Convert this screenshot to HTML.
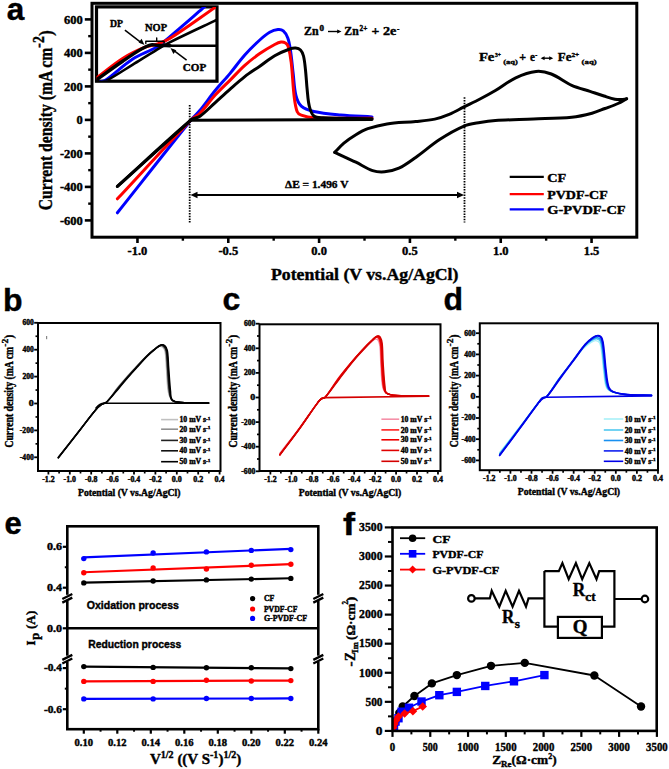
<!DOCTYPE html>
<html><head><meta charset="utf-8"><style>
html,body{margin:0;padding:0;background:#fff;}
body{width:669px;height:769px;overflow:hidden;}
svg{display:block;}
text{stroke:#000;stroke-width:0.4px;}
</style></head><body>
<svg width="669" height="769" viewBox="0 0 669 769">
<rect width="669" height="769" fill="#fff"/>
<path d="M117.4,212.8 C141.93,181.87 166.23,150.74 191,120 C193.77,116.57 197.2,113.71 200,110.3 C205.21,103.96 209.82,97.16 215,90.8 C219.79,84.92 225.05,79.43 229.9,73.6 C234.98,67.49 239.52,60.93 244.8,55 C249.5,49.72 254.57,44.76 259.8,40 C262.89,37.18 266.08,34.4 269.7,32.3 C272.2,30.85 275.03,29.82 277.9,29.5 C279.74,29.3 281.89,29.6 283.3,30.8 C285.44,32.61 286.84,35.27 287.8,37.9 C289.27,41.93 289.86,46.25 290.5,50.5 C291.66,58.23 292.26,66.04 293.2,73.8 C294.06,80.97 294.14,88.29 295.9,95.3 C296.88,99.2 298.32,103.4 301.3,106.1 C304.67,109.15 309.37,110.5 313.8,111.5 C322.62,113.49 331.7,114.16 340.7,115 C351.11,115.97 361.57,116.27 372,116.9" stroke="#0000ff" stroke-width="3" fill="none" stroke-linejoin="round" stroke-linecap="round"/>
<path d="M117.4,198.8 C141.93,172.53 166.04,145.86 191,120 C193.61,117.29 197.38,115.9 200,113.2 C205.42,107.62 209.76,101.05 215,95.3 C219.73,90.11 224.94,85.37 229.9,80.4 C234.88,75.41 239.56,70.11 244.8,65.4 C249.54,61.13 254.57,57.16 259.8,53.5 C264.56,50.18 269.6,47.27 274.7,44.5 C276.69,43.42 278.76,42.31 281,42 C282.52,41.79 284.2,42.19 285.5,43 C286.75,43.78 287.78,45.09 288.2,46.5 C289.72,51.67 290.56,57.04 291.2,62.4 C292.56,73.83 292.81,85.37 294.2,96.8 C294.81,101.83 295.37,106.98 297.2,111.7 C297.84,113.36 299.63,114.49 301.3,115.1 C305.3,116.57 309.54,117.61 313.8,117.8 C333.18,118.68 352.6,118.13 372,118.3" stroke="#ff0000" stroke-width="3" fill="none" stroke-linejoin="round" stroke-linecap="round"/>
<path d="M117.4,186.4 C141.93,164.27 165.82,141.4 191,120 C193.48,117.89 197.35,118.1 200,116.2 C205.45,112.29 210.02,107.28 215,102.8 C219.98,98.32 224.87,93.73 229.9,89.3 C234.8,84.99 239.64,80.59 244.8,76.6 C249.61,72.88 254.81,69.69 259.8,66.2 C264.78,62.72 269.43,58.73 274.7,55.7 C279.45,52.97 284.56,50.89 289.7,49 C291.6,48.3 293.68,47.81 295.7,48 C297.43,48.16 299.29,48.76 300.5,50 C302.06,51.6 302.96,53.83 303.5,56 C304.64,60.57 304.99,65.31 305.5,70 C306.22,76.65 306.5,83.35 307.2,90 C307.77,95.38 307.97,100.85 309.3,106.1 C310.19,109.61 311.06,113.63 313.8,116 C316.11,118 319.74,117.66 322.8,117.8 C339.19,118.56 355.6,118.4 372,118.7" stroke="#000" stroke-width="3" fill="none" stroke-linejoin="round" stroke-linecap="round"/>
<line x1="191" y1="120.2" x2="372" y2="119.4" stroke="#000" stroke-width="3" stroke-linecap="round"/>
<line x1="117.4" y1="186.4" x2="191" y2="120" stroke="#000" stroke-width="3" stroke-linecap="round"/>
<path d="M334.8,152.4 C337.83,149.3 340.58,145.89 343.9,143.1 C347.64,139.96 351.72,137.22 355.9,134.7 C359.71,132.41 363.6,130.16 367.8,128.7 C374.03,126.54 380.48,124.88 387,123.9 C396.49,122.47 406.15,122.46 415.7,121.5 C422.08,120.86 428.52,120.43 434.8,119.1 C439.74,118.05 444.54,116.33 449.2,114.4 C454.13,112.36 458.73,109.59 463.5,107.2 C468.99,104.45 474.56,101.85 480,99 C485.19,96.28 490.36,93.49 495.4,90.5 C502.26,86.42 508.47,81.19 515.7,77.8 C522.15,74.77 529.01,72.16 536.1,71.4 C541.21,70.85 546.52,72.12 551.3,74 C558.55,76.85 564.6,82.21 571.7,85.4 C577.55,88.03 583.9,89.4 590,91.4 C594.67,92.93 599.31,94.53 604,96 C607.61,97.13 611.2,98.42 614.9,99.2 C616.89,99.62 618.96,99.67 621,99.6 C622.88,99.54 624.73,99.07 626.6,98.8" stroke="#000" stroke-width="3" fill="none" stroke-linejoin="round" stroke-linecap="round"/>
<path d="M626.6,98.8 C623.73,100.37 620.98,102.16 618,103.5 C613.76,105.4 609.35,106.88 605,108.5 C600.68,110.11 596.46,112.04 592,113.2 C585.33,114.94 578.56,116.52 571.7,117.2 C559.01,118.46 546.24,118.45 533.5,119 C520.8,119.55 508.08,119.67 495.4,120.5 C490.23,120.84 485.09,121.57 480,122.5 C474.45,123.51 468.7,124.11 463.5,126.3 C455.11,129.83 447.23,134.54 439.6,139.5 C431.26,144.93 423.83,151.66 415.7,157.4 C410.26,161.24 404.94,165.4 398.9,168.2 C394.44,170.27 389.5,171.35 384.6,171.8 C380.6,172.17 376.41,171.88 372.6,170.6 C366.69,168.62 361.51,164.9 355.9,162.2 C348.91,158.84 341.83,155.67 334.8,152.4" stroke="#000" stroke-width="3" fill="none" stroke-linejoin="round" stroke-linecap="round"/>
<line x1="189.7" y1="105" x2="189.7" y2="222.5" stroke="#000" stroke-width="1.8" stroke-dasharray="1.5,1.2"/>
<line x1="464.5" y1="97.3" x2="464.5" y2="222.5" stroke="#000" stroke-width="1.8" stroke-dasharray="1.5,1.2"/>
<line x1="196" y1="195" x2="458" y2="195" stroke="#000" stroke-width="2"/>
<path d="M190.5,195 L197.5,191.8 L197.5,198.2 Z" fill="#000"/>
<path d="M464,195 L457,191.8 L457,198.2 Z" fill="#000"/>
<text x="285" y="187.7" font-family='"Liberation Serif", serif' font-size="11" font-weight="bold" fill="#000" textLength="63.4" lengthAdjust="spacingAndGlyphs">ΔE = 1.496 V</text>
<rect x="92" y="3.3" width="544.8" height="233.9" stroke="#000" stroke-width="3" fill="none"/>
<line x1="84.8" y1="220.4" x2="92" y2="220.4" stroke="#000" stroke-width="2.6"/>
<text x="82.8" y="224.5" font-family='"Liberation Serif", serif' font-size="12.5" font-weight="bold" fill="#000" text-anchor="end">-600</text>
<line x1="84.8" y1="186.9" x2="92" y2="186.9" stroke="#000" stroke-width="2.6"/>
<text x="82.8" y="191" font-family='"Liberation Serif", serif' font-size="12.5" font-weight="bold" fill="#000" text-anchor="end">-400</text>
<line x1="84.8" y1="153.4" x2="92" y2="153.4" stroke="#000" stroke-width="2.6"/>
<text x="82.8" y="157.5" font-family='"Liberation Serif", serif' font-size="12.5" font-weight="bold" fill="#000" text-anchor="end">-200</text>
<line x1="84.8" y1="119.9" x2="92" y2="119.9" stroke="#000" stroke-width="2.6"/>
<text x="82.8" y="124" font-family='"Liberation Serif", serif' font-size="12.5" font-weight="bold" fill="#000" text-anchor="end">0</text>
<line x1="84.8" y1="86.4" x2="92" y2="86.4" stroke="#000" stroke-width="2.6"/>
<text x="82.8" y="90.5" font-family='"Liberation Serif", serif' font-size="12.5" font-weight="bold" fill="#000" text-anchor="end">200</text>
<line x1="84.8" y1="52.9" x2="92" y2="52.9" stroke="#000" stroke-width="2.6"/>
<text x="82.8" y="57" font-family='"Liberation Serif", serif' font-size="12.5" font-weight="bold" fill="#000" text-anchor="end">400</text>
<line x1="84.8" y1="19.4" x2="92" y2="19.4" stroke="#000" stroke-width="2.6"/>
<text x="82.8" y="23.5" font-family='"Liberation Serif", serif' font-size="12.5" font-weight="bold" fill="#000" text-anchor="end">600</text>
<line x1="88.2" y1="203.65" x2="92" y2="203.65" stroke="#000" stroke-width="2.4"/>
<line x1="88.2" y1="170.15" x2="92" y2="170.15" stroke="#000" stroke-width="2.4"/>
<line x1="88.2" y1="136.65" x2="92" y2="136.65" stroke="#000" stroke-width="2.4"/>
<line x1="88.2" y1="103.15" x2="92" y2="103.15" stroke="#000" stroke-width="2.4"/>
<line x1="88.2" y1="69.65" x2="92" y2="69.65" stroke="#000" stroke-width="2.4"/>
<line x1="88.2" y1="36.15" x2="92" y2="36.15" stroke="#000" stroke-width="2.4"/>
<line x1="137.46" y1="237.2" x2="137.46" y2="243" stroke="#000" stroke-width="2.6"/>
<text x="137.46" y="255.3" font-family='"Liberation Serif", serif' font-size="12.5" font-weight="bold" fill="#000" text-anchor="middle">-1.0</text>
<line x1="228.28" y1="237.2" x2="228.28" y2="243" stroke="#000" stroke-width="2.6"/>
<text x="228.28" y="255.3" font-family='"Liberation Serif", serif' font-size="12.5" font-weight="bold" fill="#000" text-anchor="middle">-0.5</text>
<line x1="319.1" y1="237.2" x2="319.1" y2="243" stroke="#000" stroke-width="2.6"/>
<text x="319.1" y="255.3" font-family='"Liberation Serif", serif' font-size="12.5" font-weight="bold" fill="#000" text-anchor="middle">0.0</text>
<line x1="409.92" y1="237.2" x2="409.92" y2="243" stroke="#000" stroke-width="2.6"/>
<text x="409.92" y="255.3" font-family='"Liberation Serif", serif' font-size="12.5" font-weight="bold" fill="#000" text-anchor="middle">0.5</text>
<line x1="500.74" y1="237.2" x2="500.74" y2="243" stroke="#000" stroke-width="2.6"/>
<text x="500.74" y="255.3" font-family='"Liberation Serif", serif' font-size="12.5" font-weight="bold" fill="#000" text-anchor="middle">1.0</text>
<line x1="591.56" y1="237.2" x2="591.56" y2="243" stroke="#000" stroke-width="2.6"/>
<text x="591.56" y="255.3" font-family='"Liberation Serif", serif' font-size="12.5" font-weight="bold" fill="#000" text-anchor="middle">1.5</text>
<line x1="182.87" y1="237.2" x2="182.87" y2="240.7" stroke="#000" stroke-width="2.4"/>
<line x1="273.69" y1="237.2" x2="273.69" y2="240.7" stroke="#000" stroke-width="2.4"/>
<line x1="364.51" y1="237.2" x2="364.51" y2="240.7" stroke="#000" stroke-width="2.4"/>
<line x1="455.33" y1="237.2" x2="455.33" y2="240.7" stroke="#000" stroke-width="2.4"/>
<line x1="546.15" y1="237.2" x2="546.15" y2="240.7" stroke="#000" stroke-width="2.4"/>
<clipPath id="ci"><rect x="96.5" y="6.9" width="119.5" height="73.8"/></clipPath>
<rect x="96.5" y="6.9" width="120.5" height="74.3" stroke="#000" stroke-width="3.2" fill="#fff"/>
<g clip-path="url(#ci)">
<path d="M100,82 C102.07,81.23 104.4,80.97 106.2,79.7 C115.27,73.32 123.09,65.23 132.4,59.2 C140.01,54.27 148.93,51.67 156.7,47 C161.42,44.16 165.48,40.34 169.7,36.8 C180.71,27.57 191.52,18.09 202.4,8.7 C204.96,6.49 207.47,4.23 210,2" stroke="#0000ff" stroke-width="3" fill="none" stroke-linejoin="round" stroke-linecap="round"/>
<path d="M94,79.5 C95.27,78.63 96.56,77.81 97.8,76.9 C106.23,70.74 114.16,63.85 123,58.3 C130.08,53.85 137.69,50.23 145.4,47 C148.98,45.5 153.03,45.47 156.7,44.2 C161.16,42.66 165.71,41.11 169.7,38.6 C185.07,28.94 199.65,18.09 214.6,7.8 C216.41,6.55 218.2,5.27 220,4" stroke="#ff0000" stroke-width="3" fill="none" stroke-linejoin="round" stroke-linecap="round"/>
<path d="M96,83 C99.4,82.23 103.08,82.26 106.2,80.7 C115.34,76.13 123.69,70.13 132.4,64.8 C140.52,59.83 148.54,54.7 156.7,49.8 C160.97,47.23 165.24,44.63 169.7,42.4 C184.55,34.99 199.61,28.02 214.6,20.9 C216.38,20.05 218.2,19.3 220,18.5" stroke="#000" stroke-width="2.6" fill="none" stroke-linejoin="round" stroke-linecap="round"/>
<path d="M94,81.5 C95.27,80.6 96.53,79.7 97.8,78.8 C106.2,72.86 114.5,66.79 123,61 C129.14,56.82 135.27,52.61 141.7,48.9 C144.66,47.19 147.75,45.48 151.1,44.8 C153.53,44.31 156.03,45.38 158.5,45.5 C162.33,45.68 166.17,45.63 170,45.7" stroke="#000" stroke-width="3.4" fill="none" stroke-linejoin="round" stroke-linecap="round"/>
<line x1="158" y1="45.7" x2="218" y2="45.7" stroke="#000" stroke-width="2.4"/>
</g>
<text x="110" y="27.4" font-family='"Liberation Serif", serif' font-size="10" font-weight="bold" fill="#000" textLength="13" lengthAdjust="spacingAndGlyphs">DP</text>
<text x="145" y="31.2" font-family='"Liberation Serif", serif' font-size="10" font-weight="bold" fill="#000" textLength="22" lengthAdjust="spacingAndGlyphs">NOP</text>
<text x="182.8" y="71.3" font-family='"Liberation Serif", serif' font-size="10" font-weight="bold" fill="#000" textLength="23.4" lengthAdjust="spacingAndGlyphs">COP</text>
<line x1="124.9" y1="30.2" x2="141.5" y2="42.8" stroke="#000" stroke-width="1.5"/>
<path d="M144.5,45 L138.6,42.6 L141.6,38.8 Z" fill="#000"/>
<line x1="186.6" y1="60.1" x2="173" y2="49.8" stroke="#000" stroke-width="1.5"/>
<path d="M170.5,48 L176.3,50.3 L173.4,54.1 Z" fill="#000"/>
<path d="M145.8,43.5 L145.8,41.2 L156.7,41.2 L156.7,38 M156.7,41.2 L164.1,41.2 L164.1,43.5" stroke="#000" stroke-width="1.4" fill="none" stroke-linejoin="round" stroke-linecap="round"/>
<text x="304" y="34.7" font-family='"Liberation Serif", serif' font-size="12.5" font-weight="bold" fill="#000" textLength="14.6" lengthAdjust="spacingAndGlyphs">Zn</text>
<text x="319.6" y="30.8" font-family='"Liberation Serif", serif' font-size="7.3" font-weight="bold" fill="#000" textLength="4.5" lengthAdjust="spacingAndGlyphs">0</text>
<line x1="328" y1="31.5" x2="339" y2="31.5" stroke="#000" stroke-width="1.4"/>
<path d="M341.5,31.5 L337.2,29.6 L337.2,33.4 Z" fill="#000"/>
<text x="344.3" y="34.7" font-family='"Liberation Serif", serif' font-size="12.5" font-weight="bold" fill="#000" textLength="14.4" lengthAdjust="spacingAndGlyphs">Zn</text>
<text x="359.6" y="30.6" font-family='"Liberation Serif", serif' font-size="7.3" font-weight="bold" fill="#000" textLength="7.8" lengthAdjust="spacingAndGlyphs">2+</text>
<text x="371.5" y="34.5" font-family='"Liberation Serif", serif' font-size="12" font-weight="bold" fill="#000" textLength="7.8" lengthAdjust="spacingAndGlyphs">+</text>
<text x="382.9" y="34.7" font-family='"Liberation Serif", serif' font-size="12.5" font-weight="bold" fill="#000" textLength="13.4" lengthAdjust="spacingAndGlyphs">2e</text>
<text x="396.9" y="30.5" font-family='"Liberation Serif", serif' font-size="6.5" font-weight="bold" fill="#000" textLength="2.4" lengthAdjust="spacingAndGlyphs">-</text>
<text x="478.9" y="61.1" font-family='"Liberation Serif", serif' font-size="12" font-weight="bold" fill="#000" textLength="15.5" lengthAdjust="spacingAndGlyphs">Fe</text>
<text x="494.9" y="56.9" font-family='"Liberation Serif", serif' font-size="7" font-weight="bold" fill="#000" textLength="5.9" lengthAdjust="spacingAndGlyphs">3+</text>
<text x="503.2" y="63.6" font-family='"Liberation Serif", serif' font-size="7" font-weight="bold" fill="#000" textLength="14.6" lengthAdjust="spacingAndGlyphs">(aq)</text>
<text x="519.2" y="61" font-family='"Liberation Serif", serif' font-size="11.5" font-weight="bold" fill="#000" textLength="6.8" lengthAdjust="spacingAndGlyphs">+</text>
<text x="529.9" y="61.1" font-family='"Liberation Serif", serif' font-size="11.5" font-weight="bold" fill="#000" textLength="4.9" lengthAdjust="spacingAndGlyphs">e</text>
<text x="535.3" y="57" font-family='"Liberation Serif", serif' font-size="7" font-weight="bold" fill="#000" textLength="2" lengthAdjust="spacingAndGlyphs">-</text>
<line x1="542.5" y1="58.2" x2="551.3" y2="58.2" stroke="#000" stroke-width="1.4"/>
<path d="M540.6,58.2 L544.6,56.2 L544.6,60.2 Z M553.2,58.2 L549.2,56.2 L549.2,60.2 Z" fill="#000"/>
<text x="557.8" y="61.1" font-family='"Liberation Serif", serif' font-size="12" font-weight="bold" fill="#000" textLength="13.6" lengthAdjust="spacingAndGlyphs">Fe</text>
<text x="571.4" y="56.9" font-family='"Liberation Serif", serif' font-size="7" font-weight="bold" fill="#000" textLength="7.8" lengthAdjust="spacingAndGlyphs">2+</text>
<text x="581.6" y="63.6" font-family='"Liberation Serif", serif' font-size="7" font-weight="bold" fill="#000" textLength="15.1" lengthAdjust="spacingAndGlyphs">(aq)</text>
<line x1="509.7" y1="176.8" x2="543.8" y2="176.8" stroke="#000" stroke-width="2.2"/>
<text x="547.2" y="181.8" font-family='"Liberation Serif", serif' font-size="13.5" font-weight="bold" fill="#000" textLength="19" lengthAdjust="spacingAndGlyphs">CF</text>
<line x1="509.7" y1="194.1" x2="543.8" y2="194.1" stroke="#ff0000" stroke-width="2.2"/>
<text x="547.2" y="199.1" font-family='"Liberation Serif", serif' font-size="13.5" font-weight="bold" fill="#000" textLength="60.5" lengthAdjust="spacingAndGlyphs">PVDF-CF</text>
<line x1="509.7" y1="209.3" x2="543.8" y2="209.3" stroke="#0000ff" stroke-width="2.2"/>
<text x="547.2" y="214.3" font-family='"Liberation Serif", serif' font-size="13.5" font-weight="bold" fill="#000" textLength="78.4" lengthAdjust="spacingAndGlyphs">G-PVDF-CF</text>
<text x="271" y="279.5" font-family='"Liberation Serif", serif' font-size="17" font-weight="bold" fill="#000" textLength="187.4" lengthAdjust="spacingAndGlyphs">Potential (V vs.Ag/AgCl)</text>
<g transform="translate(51.5 210.2) rotate(-90)">
<text x="0" y="0" font-family='"Liberation Serif", serif' font-size="19.5" font-weight="bold" fill="#000" textLength="162.5" lengthAdjust="spacingAndGlyphs">Current density (mA cm</text>
<text x="162.5" y="-7.5" font-family='"Liberation Serif", serif' font-size="16" font-weight="bold" fill="#000" textLength="11.5" lengthAdjust="spacingAndGlyphs">-2</text>
<text x="174.5" y="0" font-family='"Liberation Serif", serif' font-size="19.5" font-weight="bold" fill="#000" textLength="5.5" lengthAdjust="spacingAndGlyphs">)</text>
</g>
<text x="6.8" y="19.6" font-family='"Liberation Sans", sans-serif' font-size="31.5" font-weight="bold" fill="#000">a</text>
<path d="M58.3,456.99 C65.53,447.86 72.77,438.73 80,429.6 C85.2,423.04 90.17,416.28 95.6,409.9 C97.25,407.96 99.12,406.16 101.2,404.68 C102.89,403.48 105.36,403.44 106.8,401.94 C110.72,397.85 113.38,392.72 116.9,388.29 C119.89,384.53 123.1,380.95 126.3,377.37 C129.34,373.97 132.48,370.66 135.6,367.33 C138.72,364 141.73,360.57 145,357.38 C147.34,355.1 149.82,352.96 152.4,350.95 C154.5,349.31 156.49,347.34 159,346.46 C160.2,346.04 161.76,346.49 162.7,347.34 C163.98,348.49 164.8,350.22 165.1,351.92 C166.05,357.32 165.96,362.84 166.4,368.3 C167.03,376.2 166.88,384.2 168.3,392 C168.84,394.97 169.83,398.31 172.2,400.19 C174.73,402.19 178.38,402.28 181.6,402.52 C190.58,403.2 199.6,402.78 208.6,402.91" stroke="#c0c0c0" stroke-width="1.3" fill="none" stroke-linejoin="round" stroke-linecap="round"/>
<path d="M58.3,457.31 C65.53,448.13 72.77,438.95 80,429.76 C85.2,423.16 90.17,416.36 95.6,409.94 C97.25,407.99 99.12,406.18 101.2,404.69 C102.89,403.48 105.34,403.41 106.8,401.92 C110.87,397.78 113.8,392.65 117.45,388.13 C120.49,384.38 123.65,380.72 126.85,377.1 C129.89,373.66 133.03,370.32 136.15,366.96 C139.27,363.59 142.28,360.13 145.55,356.91 C147.89,354.61 150.37,352.44 152.95,350.41 C155.05,348.76 157.03,346.77 159.55,345.88 C160.75,345.45 162.31,345.91 163.25,346.76 C164.54,347.93 165.35,349.68 165.65,351.39 C166.6,356.84 166.51,362.43 166.95,367.94 C167.58,375.92 167.56,383.98 168.85,391.88 C169.33,394.81 169.92,398.24 172.2,400.15 C174.68,402.22 178.38,402.27 181.6,402.51 C190.58,403.2 199.6,402.78 208.6,402.91" stroke="#909090" stroke-width="1.3" fill="none" stroke-linejoin="round" stroke-linecap="round"/>
<path d="M58.3,457.47 C65.53,448.26 72.77,439.05 80,429.84 C85.2,423.22 90.17,416.4 95.6,409.96 C97.25,408 99.12,406.19 101.2,404.69 C102.89,403.48 105.32,403.38 106.8,401.92 C111.02,397.74 114.22,392.64 118,388.06 C121.09,384.32 124.2,380.61 127.4,376.97 C130.44,373.51 133.58,370.15 136.7,366.77 C139.82,363.39 142.83,359.91 146.1,356.67 C148.44,354.36 150.92,352.18 153.5,350.14 C155.6,348.48 157.58,346.48 160.1,345.58 C161.3,345.16 162.86,345.62 163.8,346.48 C165.09,347.65 165.9,349.41 166.2,351.13 C167.15,356.61 167.06,362.22 167.5,367.76 C168.13,375.78 168.24,383.86 169.4,391.82 C169.82,394.71 170,398.21 172.2,400.13 C174.63,402.26 178.38,402.26 181.6,402.51 C190.57,403.19 199.6,402.77 208.6,402.91" stroke="#222" stroke-width="1.4" fill="none" stroke-linejoin="round" stroke-linecap="round"/>
<path d="M58.3,457.8 C65.53,448.53 72.77,439.27 80,430 C85.2,423.33 90.17,416.48 95.6,410 C97.25,408.03 99.12,406.21 101.2,404.7 C102.89,403.48 105.3,403.35 106.8,401.9 C111.18,397.66 114.63,392.57 118.55,387.9 C121.68,384.17 124.75,380.38 127.95,376.7 C130.99,373.21 134.13,369.82 137.25,366.4 C140.37,362.98 143.38,359.47 146.65,356.2 C148.99,353.86 151.47,351.66 154.05,349.6 C156.14,347.92 158.13,345.91 160.65,345 C161.84,344.57 163.41,345.04 164.35,345.9 C165.65,347.09 166.45,348.87 166.75,350.6 C167.7,356.14 167.61,361.8 168.05,367.4 C168.68,375.5 168.93,383.64 169.95,391.7 C170.31,394.58 170.07,398.13 172.2,400.1 C174.57,402.3 178.38,402.25 181.6,402.5 C190.57,403.19 199.6,402.77 208.6,402.9" stroke="#111" stroke-width="1.4" fill="none" stroke-linejoin="round" stroke-linecap="round"/>
<path d="M58.3,457.8 C65.53,448.53 72.77,439.27 80,430 C85.2,423.33 90.17,416.48 95.6,410 C97.25,408.03 99.12,406.21 101.2,404.7 C102.89,403.48 105.28,403.33 106.8,401.9 C111.33,397.65 115.05,392.61 119.1,387.9 C122.28,384.21 125.3,380.38 128.5,376.7 C131.54,373.21 134.68,369.82 137.8,366.4 C140.92,362.98 143.93,359.47 147.2,356.2 C149.54,353.86 152.02,351.66 154.6,349.6 C156.69,347.92 158.68,345.91 161.2,345 C162.39,344.57 163.96,345.04 164.9,345.9 C166.2,347.09 167,348.87 167.3,350.6 C168.25,356.14 168.16,361.8 168.6,367.4 C169.23,375.5 169.61,383.62 170.5,391.7 C170.81,394.54 170.15,398.11 172.2,400.1 C174.52,402.36 178.38,402.25 181.6,402.5 C190.57,403.19 199.6,402.77 208.6,402.9" stroke="#000" stroke-width="1.6" fill="none" stroke-linejoin="round" stroke-linecap="round"/>
<path d="M208.6,403.2 L103,403.2 Q99.5,403.4 96,408" stroke="#000" stroke-width="1.6" fill="none" stroke-linejoin="round" stroke-linecap="round"/>
<rect x="38" y="323" width="182.5" height="148" stroke="#000" stroke-width="2" fill="none"/>
<line x1="34.2" y1="322.8" x2="38" y2="322.8" stroke="#000" stroke-width="1.8"/>
<text x="33.8" y="325.2" font-family='"Liberation Serif", serif' font-size="7.2" font-weight="bold" fill="#000" text-anchor="end" textLength="11.4" lengthAdjust="spacingAndGlyphs">600</text>
<line x1="34.2" y1="349.7" x2="38" y2="349.7" stroke="#000" stroke-width="1.8"/>
<text x="33.8" y="352.1" font-family='"Liberation Serif", serif' font-size="7.2" font-weight="bold" fill="#000" text-anchor="end" textLength="11.4" lengthAdjust="spacingAndGlyphs">400</text>
<line x1="34.2" y1="376.6" x2="38" y2="376.6" stroke="#000" stroke-width="1.8"/>
<text x="33.8" y="379" font-family='"Liberation Serif", serif' font-size="7.2" font-weight="bold" fill="#000" text-anchor="end" textLength="11.4" lengthAdjust="spacingAndGlyphs">200</text>
<line x1="34.2" y1="403.5" x2="38" y2="403.5" stroke="#000" stroke-width="1.8"/>
<text x="33.8" y="405.9" font-family='"Liberation Serif", serif' font-size="7.2" font-weight="bold" fill="#000" text-anchor="end" textLength="5" lengthAdjust="spacingAndGlyphs">0</text>
<line x1="34.2" y1="430.4" x2="38" y2="430.4" stroke="#000" stroke-width="1.8"/>
<text x="33.8" y="432.8" font-family='"Liberation Serif", serif' font-size="7.2" font-weight="bold" fill="#000" text-anchor="end" textLength="14" lengthAdjust="spacingAndGlyphs">-200</text>
<line x1="34.2" y1="457.3" x2="38" y2="457.3" stroke="#000" stroke-width="1.8"/>
<text x="33.8" y="459.7" font-family='"Liberation Serif", serif' font-size="7.2" font-weight="bold" fill="#000" text-anchor="end" textLength="14" lengthAdjust="spacingAndGlyphs">-400</text>
<line x1="35.5" y1="336.25" x2="38" y2="336.25" stroke="#000" stroke-width="1.7"/>
<line x1="35.5" y1="363.15" x2="38" y2="363.15" stroke="#000" stroke-width="1.7"/>
<line x1="35.5" y1="390.05" x2="38" y2="390.05" stroke="#000" stroke-width="1.7"/>
<line x1="35.5" y1="416.95" x2="38" y2="416.95" stroke="#000" stroke-width="1.7"/>
<line x1="35.5" y1="443.85" x2="38" y2="443.85" stroke="#000" stroke-width="1.7"/>
<line x1="48.4" y1="471" x2="48.4" y2="474.5" stroke="#000" stroke-width="1.8"/>
<text x="48.4" y="481.5" font-family='"Liberation Serif", serif' font-size="7.2" font-weight="bold" fill="#000" text-anchor="middle" textLength="12.4" lengthAdjust="spacingAndGlyphs">-1.2</text>
<line x1="69.8" y1="471" x2="69.8" y2="474.5" stroke="#000" stroke-width="1.8"/>
<text x="69.8" y="481.5" font-family='"Liberation Serif", serif' font-size="7.2" font-weight="bold" fill="#000" text-anchor="middle" textLength="12.4" lengthAdjust="spacingAndGlyphs">-1.0</text>
<line x1="91.2" y1="471" x2="91.2" y2="474.5" stroke="#000" stroke-width="1.8"/>
<text x="91.2" y="481.5" font-family='"Liberation Serif", serif' font-size="7.2" font-weight="bold" fill="#000" text-anchor="middle" textLength="12.4" lengthAdjust="spacingAndGlyphs">-0.8</text>
<line x1="112.6" y1="471" x2="112.6" y2="474.5" stroke="#000" stroke-width="1.8"/>
<text x="112.6" y="481.5" font-family='"Liberation Serif", serif' font-size="7.2" font-weight="bold" fill="#000" text-anchor="middle" textLength="12.4" lengthAdjust="spacingAndGlyphs">-0.6</text>
<line x1="134" y1="471" x2="134" y2="474.5" stroke="#000" stroke-width="1.8"/>
<text x="134" y="481.5" font-family='"Liberation Serif", serif' font-size="7.2" font-weight="bold" fill="#000" text-anchor="middle" textLength="12.4" lengthAdjust="spacingAndGlyphs">-0.4</text>
<line x1="155.4" y1="471" x2="155.4" y2="474.5" stroke="#000" stroke-width="1.8"/>
<text x="155.4" y="481.5" font-family='"Liberation Serif", serif' font-size="7.2" font-weight="bold" fill="#000" text-anchor="middle" textLength="12.4" lengthAdjust="spacingAndGlyphs">-0.2</text>
<line x1="176.8" y1="471" x2="176.8" y2="474.5" stroke="#000" stroke-width="1.8"/>
<text x="176.8" y="481.5" font-family='"Liberation Serif", serif' font-size="7.2" font-weight="bold" fill="#000" text-anchor="middle" textLength="10" lengthAdjust="spacingAndGlyphs">0.0</text>
<line x1="198.2" y1="471" x2="198.2" y2="474.5" stroke="#000" stroke-width="1.8"/>
<text x="198.2" y="481.5" font-family='"Liberation Serif", serif' font-size="7.2" font-weight="bold" fill="#000" text-anchor="middle" textLength="10" lengthAdjust="spacingAndGlyphs">0.2</text>
<line x1="219.6" y1="471" x2="219.6" y2="474.5" stroke="#000" stroke-width="1.8"/>
<text x="219.6" y="481.5" font-family='"Liberation Serif", serif' font-size="7.2" font-weight="bold" fill="#000" text-anchor="middle" textLength="10" lengthAdjust="spacingAndGlyphs">0.4</text>
<line x1="59.1" y1="471" x2="59.1" y2="473.5" stroke="#000" stroke-width="1.7"/>
<line x1="80.5" y1="471" x2="80.5" y2="473.5" stroke="#000" stroke-width="1.7"/>
<line x1="101.9" y1="471" x2="101.9" y2="473.5" stroke="#000" stroke-width="1.7"/>
<line x1="123.3" y1="471" x2="123.3" y2="473.5" stroke="#000" stroke-width="1.7"/>
<line x1="144.7" y1="471" x2="144.7" y2="473.5" stroke="#000" stroke-width="1.7"/>
<line x1="166.1" y1="471" x2="166.1" y2="473.5" stroke="#000" stroke-width="1.7"/>
<line x1="187.5" y1="471" x2="187.5" y2="473.5" stroke="#000" stroke-width="1.7"/>
<line x1="208.9" y1="471" x2="208.9" y2="473.5" stroke="#000" stroke-width="1.7"/>
<line x1="161.1" y1="419.6" x2="178" y2="419.6" stroke="#c0c0c0" stroke-width="1.6"/>
<text x="179.5" y="422.2" font-family='"Liberation Serif", serif' font-size="7.2" font-weight="bold" fill="#000" textLength="31" lengthAdjust="spacingAndGlyphs">10 mV s<tspan dy="-2.5" font-size="5">-1</tspan></text>
<line x1="161.1" y1="429.2" x2="178" y2="429.2" stroke="#909090" stroke-width="1.6"/>
<text x="179.5" y="431.8" font-family='"Liberation Serif", serif' font-size="7.2" font-weight="bold" fill="#000" textLength="31" lengthAdjust="spacingAndGlyphs">20 mV s<tspan dy="-2.5" font-size="5">-1</tspan></text>
<line x1="161.1" y1="440.4" x2="178" y2="440.4" stroke="#222" stroke-width="1.6"/>
<text x="179.5" y="443" font-family='"Liberation Serif", serif' font-size="7.2" font-weight="bold" fill="#000" textLength="31" lengthAdjust="spacingAndGlyphs">30 mV s<tspan dy="-2.5" font-size="5">-1</tspan></text>
<line x1="161.1" y1="450.8" x2="178" y2="450.8" stroke="#111" stroke-width="1.6"/>
<text x="179.5" y="453.4" font-family='"Liberation Serif", serif' font-size="7.2" font-weight="bold" fill="#000" textLength="31" lengthAdjust="spacingAndGlyphs">40 mV s<tspan dy="-2.5" font-size="5">-1</tspan></text>
<line x1="161.1" y1="461.7" x2="178" y2="461.7" stroke="#000" stroke-width="1.6"/>
<text x="179.5" y="464.3" font-family='"Liberation Serif", serif' font-size="7.2" font-weight="bold" fill="#000" textLength="31" lengthAdjust="spacingAndGlyphs">50 mV s<tspan dy="-2.5" font-size="5">-1</tspan></text>
<text x="129.25" y="496.2" font-family='"Liberation Serif", serif' font-size="9.3" font-weight="bold" fill="#000" text-anchor="middle" textLength="102.3" lengthAdjust="spacingAndGlyphs">Potential (V vs.Ag/AgCl)</text>
<g transform="translate(12.5 447.5) rotate(-90)">
<text x="0" y="0" font-family='"Liberation Serif", serif' font-size="11.5" font-weight="bold" fill="#000" textLength="100.5" lengthAdjust="spacingAndGlyphs">Current density (mA cm</text>
<text x="100.8" y="-4.5" font-family='"Liberation Serif", serif' font-size="9" font-weight="bold" fill="#000" textLength="8" lengthAdjust="spacingAndGlyphs">-2</text>
<text x="109" y="0" font-family='"Liberation Serif", serif' font-size="11.5" font-weight="bold" fill="#000" textLength="3.8" lengthAdjust="spacingAndGlyphs">)</text>
</g>
<text x="3" y="311" font-family='"Liberation Sans", sans-serif' font-size="32" font-weight="bold" fill="#000">b</text>
<path d="M279.9,453.18 C286.6,444.48 293.43,435.88 300,427.08 C305.63,419.55 310.86,411.72 316.5,404.19 C317.93,402.28 319.32,400.24 321.2,398.76 C322.25,397.94 324.14,398.52 325,397.5 C329.52,392.13 332.74,385.77 336.9,380.12 C339.85,376.11 343.1,372.33 346.3,368.52 C349.33,364.92 352.42,361.36 355.6,357.88 C358.62,354.58 361.74,351.36 364.9,348.2 C366.74,346.36 368.64,344.58 370.6,342.88 C372.07,341.6 373.37,339.95 375.2,339.26 C376.11,338.92 377.46,339.31 378,340.12 C379.2,341.94 379.65,344.22 379.9,346.39 C380.59,352.28 380.39,358.24 380.8,364.15 C381.33,371.86 381.2,379.67 382.7,387.24 C383.17,389.63 384.48,392.23 386.6,393.41 C389.92,395.28 394,395.45 397.8,395.7 C408.05,396.34 418.33,395.95 428.6,396.07" stroke="#f590a8" stroke-width="1.3" fill="none" stroke-linejoin="round" stroke-linecap="round"/>
<path d="M279.9,454.21 C286.6,445.35 293.43,436.59 300,427.63 C305.63,419.96 310.86,411.99 316.5,404.32 C317.93,402.37 319.31,400.3 321.2,398.78 C322.24,397.95 324.14,398.52 325,397.5 C329.7,391.94 333.16,385.44 337.45,379.57 C340.44,375.47 343.65,371.54 346.85,367.61 C349.88,363.89 352.97,360.22 356.15,356.63 C359.17,353.23 362.28,349.91 365.45,346.64 C367.29,344.74 369.18,342.91 371.15,341.15 C372.62,339.83 373.91,338.13 375.75,337.43 C376.66,337.08 378.02,337.48 378.55,338.31 C379.76,340.2 380.2,342.54 380.45,344.78 C381.14,350.85 380.94,357 381.35,363.1 C381.88,371.05 381.89,379.07 383.25,386.92 C383.66,389.28 384.54,392.05 386.6,393.29 C389.87,395.25 393.99,395.39 397.8,395.64 C408.05,396.31 418.33,395.9 428.6,396.03" stroke="#ff2020" stroke-width="1.3" fill="none" stroke-linejoin="round" stroke-linecap="round"/>
<path d="M279.9,454.56 C286.6,445.64 293.43,436.83 300,427.82 C305.63,420.09 310.86,412.08 316.5,404.36 C317.93,402.4 319.31,400.32 321.2,398.79 C322.24,397.95 324.12,398.51 325,397.5 C329.86,391.88 333.57,385.35 338,379.38 C341.04,375.29 344.2,371.27 347.4,367.31 C350.43,363.55 353.52,359.84 356.7,356.22 C359.72,352.78 362.83,349.42 366,346.12 C367.83,344.21 369.73,342.35 371.7,340.57 C373.17,339.25 374.45,337.53 376.3,336.81 C377.21,336.46 378.58,336.88 379.1,337.7 C380.31,339.62 380.75,341.98 381,344.24 C381.69,350.38 381.49,356.59 381.9,362.75 C382.43,370.78 382.57,378.86 383.8,386.81 C384.16,389.12 384.62,392 386.6,393.24 C389.83,395.28 393.99,395.37 397.8,395.62 C408.05,396.3 418.33,395.88 428.6,396.01" stroke="#ee0000" stroke-width="1.4" fill="none" stroke-linejoin="round" stroke-linecap="round"/>
<path d="M279.9,454.9 C286.6,445.93 293.43,437.06 300,428 C305.63,420.23 310.86,412.17 316.5,404.4 C317.93,402.43 319.31,400.34 321.2,398.8 C322.24,397.96 324.11,398.5 325,397.5 C330.03,391.82 333.99,385.26 338.55,379.2 C341.64,375.1 344.75,371.01 347.95,367 C350.98,363.21 354.07,359.46 357.25,355.8 C360.27,352.33 363.38,348.94 366.55,345.6 C368.38,343.67 370.28,341.8 372.25,340 C373.72,338.66 375,336.93 376.85,336.2 C377.76,335.84 379.13,336.27 379.65,337.1 C380.87,339.04 381.3,341.42 381.55,343.7 C382.24,349.9 382.04,356.17 382.45,362.4 C382.98,370.51 383.27,378.65 384.35,386.7 C384.66,388.97 384.69,391.93 386.6,393.2 C389.78,395.31 393.99,395.35 397.8,395.6 C408.04,396.28 418.33,395.87 428.6,396" stroke="#e00000" stroke-width="1.5" fill="none" stroke-linejoin="round" stroke-linecap="round"/>
<path d="M279.9,454.9 C286.6,445.93 293.43,437.06 300,428 C305.63,420.23 310.86,412.17 316.5,404.4 C317.93,402.43 319.31,400.34 321.2,398.8 C322.24,397.96 324.1,398.49 325,397.5 C330.19,391.81 334.4,385.3 339.1,379.2 C342.23,375.13 345.3,371.01 348.5,367 C351.53,363.21 354.62,359.46 357.8,355.8 C360.82,352.33 363.93,348.94 367.1,345.6 C368.93,343.67 370.83,341.8 372.8,340 C374.27,338.66 375.55,336.93 377.4,336.2 C378.31,335.84 379.68,336.27 380.2,337.1 C381.42,339.04 381.85,341.42 382.1,343.7 C382.79,349.9 382.59,356.17 383,362.4 C383.53,370.51 383.96,378.63 384.9,386.7 C385.16,388.92 384.76,391.93 386.6,393.2 C389.74,395.37 393.99,395.35 397.8,395.6 C408.04,396.28 418.33,395.87 428.6,396" stroke="#d40000" stroke-width="1.6" fill="none" stroke-linejoin="round" stroke-linecap="round"/>
<path d="M428.6,396.2 L325,397.6 Q321.5,397.8 318,402" stroke="#d40000" stroke-width="1.6" fill="none" stroke-linejoin="round" stroke-linecap="round"/>
<rect x="259.5" y="324.3" width="181" height="146.7" stroke="#000" stroke-width="2" fill="none"/>
<line x1="255.7" y1="323.7" x2="259.5" y2="323.7" stroke="#000" stroke-width="1.8"/>
<text x="255.3" y="326.1" font-family='"Liberation Serif", serif' font-size="7.2" font-weight="bold" fill="#000" text-anchor="end" textLength="11.4" lengthAdjust="spacingAndGlyphs">600</text>
<line x1="255.7" y1="348.3" x2="259.5" y2="348.3" stroke="#000" stroke-width="1.8"/>
<text x="255.3" y="350.7" font-family='"Liberation Serif", serif' font-size="7.2" font-weight="bold" fill="#000" text-anchor="end" textLength="11.4" lengthAdjust="spacingAndGlyphs">400</text>
<line x1="255.7" y1="372.9" x2="259.5" y2="372.9" stroke="#000" stroke-width="1.8"/>
<text x="255.3" y="375.3" font-family='"Liberation Serif", serif' font-size="7.2" font-weight="bold" fill="#000" text-anchor="end" textLength="11.4" lengthAdjust="spacingAndGlyphs">200</text>
<line x1="255.7" y1="397.5" x2="259.5" y2="397.5" stroke="#000" stroke-width="1.8"/>
<text x="255.3" y="399.9" font-family='"Liberation Serif", serif' font-size="7.2" font-weight="bold" fill="#000" text-anchor="end" textLength="5" lengthAdjust="spacingAndGlyphs">0</text>
<line x1="255.7" y1="422.1" x2="259.5" y2="422.1" stroke="#000" stroke-width="1.8"/>
<text x="255.3" y="424.5" font-family='"Liberation Serif", serif' font-size="7.2" font-weight="bold" fill="#000" text-anchor="end" textLength="14" lengthAdjust="spacingAndGlyphs">-200</text>
<line x1="255.7" y1="446.7" x2="259.5" y2="446.7" stroke="#000" stroke-width="1.8"/>
<text x="255.3" y="449.1" font-family='"Liberation Serif", serif' font-size="7.2" font-weight="bold" fill="#000" text-anchor="end" textLength="14" lengthAdjust="spacingAndGlyphs">-400</text>
<line x1="255.7" y1="471.3" x2="259.5" y2="471.3" stroke="#000" stroke-width="1.8"/>
<text x="255.3" y="473.7" font-family='"Liberation Serif", serif' font-size="7.2" font-weight="bold" fill="#000" text-anchor="end" textLength="14" lengthAdjust="spacingAndGlyphs">-600</text>
<line x1="257" y1="336" x2="259.5" y2="336" stroke="#000" stroke-width="1.7"/>
<line x1="257" y1="360.6" x2="259.5" y2="360.6" stroke="#000" stroke-width="1.7"/>
<line x1="257" y1="385.2" x2="259.5" y2="385.2" stroke="#000" stroke-width="1.7"/>
<line x1="257" y1="409.8" x2="259.5" y2="409.8" stroke="#000" stroke-width="1.7"/>
<line x1="257" y1="434.4" x2="259.5" y2="434.4" stroke="#000" stroke-width="1.7"/>
<line x1="257" y1="459" x2="259.5" y2="459" stroke="#000" stroke-width="1.7"/>
<line x1="270.38" y1="471" x2="270.38" y2="474.5" stroke="#000" stroke-width="1.8"/>
<text x="270.38" y="481.5" font-family='"Liberation Serif", serif' font-size="7.2" font-weight="bold" fill="#000" text-anchor="middle" textLength="12.4" lengthAdjust="spacingAndGlyphs">-1.2</text>
<line x1="291.32" y1="471" x2="291.32" y2="474.5" stroke="#000" stroke-width="1.8"/>
<text x="291.32" y="481.5" font-family='"Liberation Serif", serif' font-size="7.2" font-weight="bold" fill="#000" text-anchor="middle" textLength="12.4" lengthAdjust="spacingAndGlyphs">-1.0</text>
<line x1="312.27" y1="471" x2="312.27" y2="474.5" stroke="#000" stroke-width="1.8"/>
<text x="312.27" y="481.5" font-family='"Liberation Serif", serif' font-size="7.2" font-weight="bold" fill="#000" text-anchor="middle" textLength="12.4" lengthAdjust="spacingAndGlyphs">-0.8</text>
<line x1="333.23" y1="471" x2="333.23" y2="474.5" stroke="#000" stroke-width="1.8"/>
<text x="333.23" y="481.5" font-family='"Liberation Serif", serif' font-size="7.2" font-weight="bold" fill="#000" text-anchor="middle" textLength="12.4" lengthAdjust="spacingAndGlyphs">-0.6</text>
<line x1="354.18" y1="471" x2="354.18" y2="474.5" stroke="#000" stroke-width="1.8"/>
<text x="354.18" y="481.5" font-family='"Liberation Serif", serif' font-size="7.2" font-weight="bold" fill="#000" text-anchor="middle" textLength="12.4" lengthAdjust="spacingAndGlyphs">-0.4</text>
<line x1="375.12" y1="471" x2="375.12" y2="474.5" stroke="#000" stroke-width="1.8"/>
<text x="375.12" y="481.5" font-family='"Liberation Serif", serif' font-size="7.2" font-weight="bold" fill="#000" text-anchor="middle" textLength="12.4" lengthAdjust="spacingAndGlyphs">-0.2</text>
<line x1="396.08" y1="471" x2="396.08" y2="474.5" stroke="#000" stroke-width="1.8"/>
<text x="396.08" y="481.5" font-family='"Liberation Serif", serif' font-size="7.2" font-weight="bold" fill="#000" text-anchor="middle" textLength="10" lengthAdjust="spacingAndGlyphs">0.0</text>
<line x1="417.02" y1="471" x2="417.02" y2="474.5" stroke="#000" stroke-width="1.8"/>
<text x="417.02" y="481.5" font-family='"Liberation Serif", serif' font-size="7.2" font-weight="bold" fill="#000" text-anchor="middle" textLength="10" lengthAdjust="spacingAndGlyphs">0.2</text>
<line x1="437.98" y1="471" x2="437.98" y2="474.5" stroke="#000" stroke-width="1.8"/>
<text x="437.98" y="481.5" font-family='"Liberation Serif", serif' font-size="7.2" font-weight="bold" fill="#000" text-anchor="middle" textLength="10" lengthAdjust="spacingAndGlyphs">0.4</text>
<line x1="280.85" y1="471" x2="280.85" y2="473.5" stroke="#000" stroke-width="1.7"/>
<line x1="301.8" y1="471" x2="301.8" y2="473.5" stroke="#000" stroke-width="1.7"/>
<line x1="322.75" y1="471" x2="322.75" y2="473.5" stroke="#000" stroke-width="1.7"/>
<line x1="343.7" y1="471" x2="343.7" y2="473.5" stroke="#000" stroke-width="1.7"/>
<line x1="364.65" y1="471" x2="364.65" y2="473.5" stroke="#000" stroke-width="1.7"/>
<line x1="385.6" y1="471" x2="385.6" y2="473.5" stroke="#000" stroke-width="1.7"/>
<line x1="406.55" y1="471" x2="406.55" y2="473.5" stroke="#000" stroke-width="1.7"/>
<line x1="427.5" y1="471" x2="427.5" y2="473.5" stroke="#000" stroke-width="1.7"/>
<line x1="381.4" y1="419.2" x2="399.2" y2="419.2" stroke="#f590a8" stroke-width="1.6"/>
<text x="400.7" y="421.8" font-family='"Liberation Serif", serif' font-size="7.2" font-weight="bold" fill="#000" textLength="31" lengthAdjust="spacingAndGlyphs">10 mV s<tspan dy="-2.5" font-size="5">-1</tspan></text>
<line x1="381.4" y1="429.9" x2="399.2" y2="429.9" stroke="#ff2020" stroke-width="1.6"/>
<text x="400.7" y="432.5" font-family='"Liberation Serif", serif' font-size="7.2" font-weight="bold" fill="#000" textLength="31" lengthAdjust="spacingAndGlyphs">20 mV s<tspan dy="-2.5" font-size="5">-1</tspan></text>
<line x1="381.4" y1="439.8" x2="399.2" y2="439.8" stroke="#ee0000" stroke-width="1.6"/>
<text x="400.7" y="442.4" font-family='"Liberation Serif", serif' font-size="7.2" font-weight="bold" fill="#000" textLength="31" lengthAdjust="spacingAndGlyphs">30 mV s<tspan dy="-2.5" font-size="5">-1</tspan></text>
<line x1="381.4" y1="450.4" x2="399.2" y2="450.4" stroke="#e00000" stroke-width="1.6"/>
<text x="400.7" y="453" font-family='"Liberation Serif", serif' font-size="7.2" font-weight="bold" fill="#000" textLength="31" lengthAdjust="spacingAndGlyphs">40 mV s<tspan dy="-2.5" font-size="5">-1</tspan></text>
<line x1="381.4" y1="461.3" x2="399.2" y2="461.3" stroke="#d40000" stroke-width="1.6"/>
<text x="400.7" y="463.9" font-family='"Liberation Serif", serif' font-size="7.2" font-weight="bold" fill="#000" textLength="31" lengthAdjust="spacingAndGlyphs">50 mV s<tspan dy="-2.5" font-size="5">-1</tspan></text>
<text x="350" y="496.2" font-family='"Liberation Serif", serif' font-size="9.3" font-weight="bold" fill="#000" text-anchor="middle" textLength="102.3" lengthAdjust="spacingAndGlyphs">Potential (V vs.Ag/AgCl)</text>
<g transform="translate(236.5 447.5) rotate(-90)">
<text x="0" y="0" font-family='"Liberation Serif", serif' font-size="11.5" font-weight="bold" fill="#000" textLength="100.5" lengthAdjust="spacingAndGlyphs">Current density (mA cm</text>
<text x="100.8" y="-4.5" font-family='"Liberation Serif", serif' font-size="9" font-weight="bold" fill="#000" textLength="8" lengthAdjust="spacingAndGlyphs">-2</text>
<text x="109" y="0" font-family='"Liberation Serif", serif' font-size="11.5" font-weight="bold" fill="#000" textLength="3.8" lengthAdjust="spacingAndGlyphs">)</text>
</g>
<text x="222.5" y="309.8" font-family='"Liberation Sans", sans-serif' font-size="32" font-weight="bold" fill="#000">c</text>
<path d="M499.7,452.49 C506.47,443.83 513.26,435.19 520,426.5 C525.96,418.81 531.77,411.01 537.8,403.37 C539.31,401.45 540.64,399.3 542.6,397.85 C543.67,397.05 545.63,397.91 546.5,396.9 C550.96,391.69 553.92,385.37 558,379.87 C562.33,374.04 567.13,368.59 571.7,362.94 C575.57,358.16 579.08,353.07 583.3,348.59 C585.58,346.17 588.29,344.12 591.1,342.34 C592.54,341.42 594.21,340.41 595.9,340.59 C597.47,340.75 599.17,341.81 599.8,343.26 C601.27,346.6 601.31,350.4 601.8,354.02 C602.61,359.95 602.86,365.94 603.7,371.87 C604.46,377.27 604.23,383.06 606.6,387.97 C607.8,390.45 610.98,391.52 613.6,392.38 C617.97,393.83 622.61,394.41 627.2,394.78 C635.28,395.42 643.4,395.21 651.5,395.42" stroke="#a8f0f8" stroke-width="1.3" fill="none" stroke-linejoin="round" stroke-linecap="round"/>
<path d="M499.7,453.55 C506.47,444.72 513.26,435.91 520,427.06 C525.96,419.23 531.77,411.28 537.8,403.49 C539.31,401.54 540.64,399.36 542.6,397.87 C543.67,397.06 545.63,397.91 546.5,396.9 C551.13,391.51 554.34,385.05 558.55,379.32 C562.93,373.35 567.69,367.67 572.25,361.84 C576.12,356.9 579.62,351.66 583.85,347.02 C586.12,344.53 588.83,342.41 591.65,340.56 C593.08,339.62 594.75,338.57 596.45,338.75 C598.03,338.93 599.73,340.05 600.35,341.51 C601.82,344.97 601.86,348.89 602.35,352.62 C603.16,358.75 603.41,364.94 604.25,371.06 C605.01,376.63 604.88,382.53 607.15,387.68 C608.21,390.09 611.12,391.37 613.6,392.24 C617.95,393.76 622.61,394.33 627.2,394.71 C635.28,395.38 643.4,395.15 651.5,395.38" stroke="#50c8f0" stroke-width="1.3" fill="none" stroke-linejoin="round" stroke-linecap="round"/>
<path d="M499.7,454.25 C506.47,445.31 513.26,436.4 520,427.44 C525.96,419.51 531.77,411.46 537.8,403.58 C539.31,401.6 540.63,399.39 542.6,397.88 C543.66,397.06 545.62,397.91 546.5,396.9 C551.3,391.39 554.77,384.84 559.1,378.95 C563.54,372.91 568.24,367.05 572.8,361.1 C576.67,356.06 580.17,350.71 584.4,345.97 C586.67,343.43 589.37,341.27 592.2,339.38 C593.62,338.42 595.3,337.34 597,337.53 C598.59,337.71 600.28,338.87 600.9,340.35 C602.38,343.89 602.41,347.89 602.9,351.69 C603.71,357.95 603.96,364.26 604.8,370.51 C605.56,376.2 605.54,382.17 607.7,387.49 C608.64,389.81 611.25,391.28 613.6,392.14 C617.93,393.74 622.61,394.28 627.2,394.67 C635.27,395.35 643.4,395.12 651.5,395.35" stroke="#1890f0" stroke-width="1.5" fill="none" stroke-linejoin="round" stroke-linecap="round"/>
<path d="M499.7,455.3 C506.47,446.2 513.26,437.12 520,428 C525.96,419.92 531.77,411.73 537.8,403.7 C539.31,401.69 540.62,399.45 542.6,397.9 C543.66,397.07 545.62,397.91 546.5,396.9 C551.48,391.2 555.2,384.52 559.65,378.4 C564.15,372.22 568.79,366.13 573.35,360 C577.22,354.8 580.71,349.3 584.95,344.4 C587.21,341.79 589.91,339.56 592.75,337.6 C594.17,336.62 595.84,335.5 597.55,335.7 C599.16,335.88 600.84,337.1 601.45,338.6 C602.93,342.27 602.96,346.37 603.45,350.3 C604.26,356.75 604.51,363.26 605.35,369.7 C606.11,375.56 606.2,381.65 608.25,387.2 C609.08,389.45 611.37,391.13 613.6,392 C617.9,393.68 622.6,394.2 627.2,394.6 C635.27,395.3 643.4,395.07 651.5,395.3" stroke="#1020f0" stroke-width="1.6" fill="none" stroke-linejoin="round" stroke-linecap="round"/>
<path d="M499.7,455.3 C506.47,446.2 513.26,437.12 520,428 C525.96,419.92 531.77,411.73 537.8,403.7 C539.31,401.69 540.62,399.45 542.6,397.9 C543.66,397.07 545.6,397.9 546.5,396.9 C551.64,391.2 555.63,384.56 560.2,378.4 C564.76,372.26 569.34,366.13 573.9,360 C577.77,354.8 581.26,349.3 585.5,344.4 C587.76,341.79 590.46,339.56 593.3,337.6 C594.72,336.62 596.39,335.5 598.1,335.7 C599.71,335.88 601.39,337.1 602,338.6 C603.48,342.27 603.51,346.37 604,350.3 C604.81,356.75 605.06,363.26 605.9,369.7 C606.66,375.56 606.87,381.61 608.8,387.2 C609.54,389.34 611.5,391.16 613.6,392 C617.88,393.72 622.6,394.2 627.2,394.6 C635.27,395.3 643.4,395.07 651.5,395.3" stroke="#0000e8" stroke-width="1.8" fill="none" stroke-linejoin="round" stroke-linecap="round"/>
<path d="M651.5,395.9 L546.5,397.3 Q543,397.5 539.5,402" stroke="#0000e8" stroke-width="1.6" fill="none" stroke-linejoin="round" stroke-linecap="round"/>
<rect x="479.8" y="323.3" width="178.2" height="146.9" stroke="#000" stroke-width="2" fill="none"/>
<line x1="476" y1="333.2" x2="479.8" y2="333.2" stroke="#000" stroke-width="1.8"/>
<text x="475.6" y="335.6" font-family='"Liberation Serif", serif' font-size="7.2" font-weight="bold" fill="#000" text-anchor="end" textLength="11.4" lengthAdjust="spacingAndGlyphs">600</text>
<line x1="476" y1="354.4" x2="479.8" y2="354.4" stroke="#000" stroke-width="1.8"/>
<text x="475.6" y="356.8" font-family='"Liberation Serif", serif' font-size="7.2" font-weight="bold" fill="#000" text-anchor="end" textLength="11.4" lengthAdjust="spacingAndGlyphs">400</text>
<line x1="476" y1="375.6" x2="479.8" y2="375.6" stroke="#000" stroke-width="1.8"/>
<text x="475.6" y="378" font-family='"Liberation Serif", serif' font-size="7.2" font-weight="bold" fill="#000" text-anchor="end" textLength="11.4" lengthAdjust="spacingAndGlyphs">200</text>
<line x1="476" y1="396.8" x2="479.8" y2="396.8" stroke="#000" stroke-width="1.8"/>
<text x="475.6" y="399.2" font-family='"Liberation Serif", serif' font-size="7.2" font-weight="bold" fill="#000" text-anchor="end" textLength="5" lengthAdjust="spacingAndGlyphs">0</text>
<line x1="476" y1="418" x2="479.8" y2="418" stroke="#000" stroke-width="1.8"/>
<text x="475.6" y="420.4" font-family='"Liberation Serif", serif' font-size="7.2" font-weight="bold" fill="#000" text-anchor="end" textLength="14" lengthAdjust="spacingAndGlyphs">-200</text>
<line x1="476" y1="439.2" x2="479.8" y2="439.2" stroke="#000" stroke-width="1.8"/>
<text x="475.6" y="441.6" font-family='"Liberation Serif", serif' font-size="7.2" font-weight="bold" fill="#000" text-anchor="end" textLength="14" lengthAdjust="spacingAndGlyphs">-400</text>
<line x1="476" y1="460.4" x2="479.8" y2="460.4" stroke="#000" stroke-width="1.8"/>
<text x="475.6" y="462.8" font-family='"Liberation Serif", serif' font-size="7.2" font-weight="bold" fill="#000" text-anchor="end" textLength="14" lengthAdjust="spacingAndGlyphs">-600</text>
<line x1="477.3" y1="343.8" x2="479.8" y2="343.8" stroke="#000" stroke-width="1.7"/>
<line x1="477.3" y1="365" x2="479.8" y2="365" stroke="#000" stroke-width="1.7"/>
<line x1="477.3" y1="386.2" x2="479.8" y2="386.2" stroke="#000" stroke-width="1.7"/>
<line x1="477.3" y1="407.4" x2="479.8" y2="407.4" stroke="#000" stroke-width="1.7"/>
<line x1="477.3" y1="428.6" x2="479.8" y2="428.6" stroke="#000" stroke-width="1.7"/>
<line x1="477.3" y1="449.8" x2="479.8" y2="449.8" stroke="#000" stroke-width="1.7"/>
<line x1="489.34" y1="470.2" x2="489.34" y2="473.7" stroke="#000" stroke-width="1.8"/>
<text x="489.34" y="480.7" font-family='"Liberation Serif", serif' font-size="7.2" font-weight="bold" fill="#000" text-anchor="middle" textLength="12.4" lengthAdjust="spacingAndGlyphs">-1.2</text>
<line x1="510.42" y1="470.2" x2="510.42" y2="473.7" stroke="#000" stroke-width="1.8"/>
<text x="510.42" y="480.7" font-family='"Liberation Serif", serif' font-size="7.2" font-weight="bold" fill="#000" text-anchor="middle" textLength="12.4" lengthAdjust="spacingAndGlyphs">-1.0</text>
<line x1="531.5" y1="470.2" x2="531.5" y2="473.7" stroke="#000" stroke-width="1.8"/>
<text x="531.5" y="480.7" font-family='"Liberation Serif", serif' font-size="7.2" font-weight="bold" fill="#000" text-anchor="middle" textLength="12.4" lengthAdjust="spacingAndGlyphs">-0.8</text>
<line x1="552.58" y1="470.2" x2="552.58" y2="473.7" stroke="#000" stroke-width="1.8"/>
<text x="552.58" y="480.7" font-family='"Liberation Serif", serif' font-size="7.2" font-weight="bold" fill="#000" text-anchor="middle" textLength="12.4" lengthAdjust="spacingAndGlyphs">-0.6</text>
<line x1="573.66" y1="470.2" x2="573.66" y2="473.7" stroke="#000" stroke-width="1.8"/>
<text x="573.66" y="480.7" font-family='"Liberation Serif", serif' font-size="7.2" font-weight="bold" fill="#000" text-anchor="middle" textLength="12.4" lengthAdjust="spacingAndGlyphs">-0.4</text>
<line x1="594.74" y1="470.2" x2="594.74" y2="473.7" stroke="#000" stroke-width="1.8"/>
<text x="594.74" y="480.7" font-family='"Liberation Serif", serif' font-size="7.2" font-weight="bold" fill="#000" text-anchor="middle" textLength="12.4" lengthAdjust="spacingAndGlyphs">-0.2</text>
<line x1="615.82" y1="470.2" x2="615.82" y2="473.7" stroke="#000" stroke-width="1.8"/>
<text x="615.82" y="480.7" font-family='"Liberation Serif", serif' font-size="7.2" font-weight="bold" fill="#000" text-anchor="middle" textLength="10" lengthAdjust="spacingAndGlyphs">0.0</text>
<line x1="636.9" y1="470.2" x2="636.9" y2="473.7" stroke="#000" stroke-width="1.8"/>
<text x="636.9" y="480.7" font-family='"Liberation Serif", serif' font-size="7.2" font-weight="bold" fill="#000" text-anchor="middle" textLength="10" lengthAdjust="spacingAndGlyphs">0.2</text>
<line x1="657.98" y1="470.2" x2="657.98" y2="473.7" stroke="#000" stroke-width="1.8"/>
<text x="657.98" y="480.7" font-family='"Liberation Serif", serif' font-size="7.2" font-weight="bold" fill="#000" text-anchor="middle" textLength="10" lengthAdjust="spacingAndGlyphs">0.4</text>
<line x1="499.88" y1="470.2" x2="499.88" y2="472.7" stroke="#000" stroke-width="1.7"/>
<line x1="520.96" y1="470.2" x2="520.96" y2="472.7" stroke="#000" stroke-width="1.7"/>
<line x1="542.04" y1="470.2" x2="542.04" y2="472.7" stroke="#000" stroke-width="1.7"/>
<line x1="563.12" y1="470.2" x2="563.12" y2="472.7" stroke="#000" stroke-width="1.7"/>
<line x1="584.2" y1="470.2" x2="584.2" y2="472.7" stroke="#000" stroke-width="1.7"/>
<line x1="605.28" y1="470.2" x2="605.28" y2="472.7" stroke="#000" stroke-width="1.7"/>
<line x1="626.36" y1="470.2" x2="626.36" y2="472.7" stroke="#000" stroke-width="1.7"/>
<line x1="647.44" y1="470.2" x2="647.44" y2="472.7" stroke="#000" stroke-width="1.7"/>
<line x1="603.8" y1="419" x2="623.2" y2="419" stroke="#a8f0f8" stroke-width="1.6"/>
<text x="624.7" y="421.6" font-family='"Liberation Serif", serif' font-size="7.2" font-weight="bold" fill="#000" textLength="31" lengthAdjust="spacingAndGlyphs">10 mV s<tspan dy="-2.5" font-size="5">-1</tspan></text>
<line x1="603.8" y1="430" x2="623.2" y2="430" stroke="#50c8f0" stroke-width="1.6"/>
<text x="624.7" y="432.6" font-family='"Liberation Serif", serif' font-size="7.2" font-weight="bold" fill="#000" textLength="31" lengthAdjust="spacingAndGlyphs">20 mV s<tspan dy="-2.5" font-size="5">-1</tspan></text>
<line x1="603.8" y1="440.5" x2="623.2" y2="440.5" stroke="#1890f0" stroke-width="1.6"/>
<text x="624.7" y="443.1" font-family='"Liberation Serif", serif' font-size="7.2" font-weight="bold" fill="#000" textLength="31" lengthAdjust="spacingAndGlyphs">30 mV s<tspan dy="-2.5" font-size="5">-1</tspan></text>
<line x1="603.8" y1="450.9" x2="623.2" y2="450.9" stroke="#1020f0" stroke-width="1.6"/>
<text x="624.7" y="453.5" font-family='"Liberation Serif", serif' font-size="7.2" font-weight="bold" fill="#000" textLength="31" lengthAdjust="spacingAndGlyphs">40 mV s<tspan dy="-2.5" font-size="5">-1</tspan></text>
<line x1="603.8" y1="461.3" x2="623.2" y2="461.3" stroke="#0000e8" stroke-width="1.6"/>
<text x="624.7" y="463.9" font-family='"Liberation Serif", serif' font-size="7.2" font-weight="bold" fill="#000" textLength="31" lengthAdjust="spacingAndGlyphs">50 mV s<tspan dy="-2.5" font-size="5">-1</tspan></text>
<text x="568.9" y="495.4" font-family='"Liberation Serif", serif' font-size="9.3" font-weight="bold" fill="#000" text-anchor="middle" textLength="102.3" lengthAdjust="spacingAndGlyphs">Potential (V vs.Ag/AgCl)</text>
<g transform="translate(457.5 447.3) rotate(-90)">
<text x="0" y="0" font-family='"Liberation Serif", serif' font-size="11.5" font-weight="bold" fill="#000" textLength="100.5" lengthAdjust="spacingAndGlyphs">Current density (mA cm</text>
<text x="100.8" y="-4.5" font-family='"Liberation Serif", serif' font-size="9" font-weight="bold" fill="#000" textLength="8" lengthAdjust="spacingAndGlyphs">-2</text>
<text x="109" y="0" font-family='"Liberation Serif", serif' font-size="11.5" font-weight="bold" fill="#000" textLength="3.8" lengthAdjust="spacingAndGlyphs">)</text>
</g>
<text x="443.5" y="309.6" font-family='"Liberation Sans", sans-serif' font-size="32" font-weight="bold" fill="#000">d</text>
<rect x="46" y="336" width="1.2" height="3.2" fill="#888"/>
<line x1="83.8" y1="557.41" x2="290.83" y2="548.81" stroke="#0000ff" stroke-width="2.2"/>
<circle cx="83.8" cy="558.6" r="2.7" fill="#0000ff"/>
<circle cx="153.14" cy="553" r="2.7" fill="#0000ff"/>
<circle cx="206.41" cy="551.9" r="2.7" fill="#0000ff"/>
<circle cx="251.3" cy="550.4" r="2.7" fill="#0000ff"/>
<circle cx="290.83" cy="549.6" r="2.7" fill="#0000ff"/>
<line x1="83.8" y1="572.24" x2="290.83" y2="564.2" stroke="#ff0000" stroke-width="2.2"/>
<circle cx="83.8" cy="572.8" r="2.7" fill="#ff0000"/>
<circle cx="153.14" cy="567.9" r="2.7" fill="#ff0000"/>
<circle cx="206.41" cy="569" r="2.7" fill="#ff0000"/>
<circle cx="251.3" cy="565.3" r="2.7" fill="#ff0000"/>
<circle cx="290.83" cy="564.2" r="2.7" fill="#ff0000"/>
<line x1="83.8" y1="582.7" x2="290.83" y2="578.24" stroke="#000000" stroke-width="2.2"/>
<circle cx="83.8" cy="582.9" r="2.7" fill="#000000"/>
<circle cx="153.14" cy="581" r="2.7" fill="#000000"/>
<circle cx="206.41" cy="579.9" r="2.7" fill="#000000"/>
<circle cx="251.3" cy="579.1" r="2.7" fill="#000000"/>
<circle cx="290.83" cy="578.4" r="2.7" fill="#000000"/>
<line x1="83.8" y1="666.67" x2="290.83" y2="668.45" stroke="#000000" stroke-width="2.2"/>
<circle cx="83.8" cy="666.6" r="2.7" fill="#000000"/>
<circle cx="153.14" cy="667.4" r="2.7" fill="#000000"/>
<circle cx="206.41" cy="667.8" r="2.7" fill="#000000"/>
<circle cx="251.3" cy="667.8" r="2.7" fill="#000000"/>
<circle cx="290.83" cy="668.6" r="2.7" fill="#000000"/>
<line x1="83.8" y1="681.38" x2="290.83" y2="680.54" stroke="#ff0000" stroke-width="2.2"/>
<circle cx="83.8" cy="681.4" r="2.7" fill="#ff0000"/>
<circle cx="153.14" cy="681.4" r="2.7" fill="#ff0000"/>
<circle cx="206.41" cy="680.2" r="2.7" fill="#ff0000"/>
<circle cx="251.3" cy="681" r="2.7" fill="#ff0000"/>
<circle cx="290.83" cy="680.6" r="2.7" fill="#ff0000"/>
<line x1="83.8" y1="698.93" x2="290.83" y2="698.44" stroke="#0000ff" stroke-width="2.2"/>
<circle cx="83.8" cy="698.9" r="2.7" fill="#0000ff"/>
<circle cx="153.14" cy="698.9" r="2.7" fill="#0000ff"/>
<circle cx="206.41" cy="698.5" r="2.7" fill="#0000ff"/>
<circle cx="251.3" cy="698.5" r="2.7" fill="#0000ff"/>
<circle cx="290.83" cy="698.5" r="2.7" fill="#0000ff"/>
<rect x="67.3" y="526.3" width="251" height="202.9" stroke="#000" stroke-width="2.6" fill="none"/>
<line x1="67.3" y1="628.3" x2="318.3" y2="628.3" stroke="#000" stroke-width="2.6"/>
<line x1="62.8" y1="546.8" x2="67.3" y2="546.8" stroke="#000" stroke-width="2.2"/>
<text x="61.9" y="550.1" font-family='"Liberation Serif", serif' font-size="10" font-weight="bold" fill="#000" text-anchor="end" textLength="15" lengthAdjust="spacingAndGlyphs">0.6</text>
<line x1="62.8" y1="587.7" x2="67.3" y2="587.7" stroke="#000" stroke-width="2.2"/>
<text x="61.9" y="591" font-family='"Liberation Serif", serif' font-size="10" font-weight="bold" fill="#000" text-anchor="end" textLength="15" lengthAdjust="spacingAndGlyphs">0.4</text>
<line x1="64.8" y1="567.25" x2="67.3" y2="567.25" stroke="#000" stroke-width="2"/>
<line x1="62.8" y1="628.3" x2="67.3" y2="628.3" stroke="#000" stroke-width="2.2"/>
<text x="61.9" y="631.6" font-family='"Liberation Serif", serif' font-size="10" font-weight="bold" fill="#000" text-anchor="end" textLength="15" lengthAdjust="spacingAndGlyphs">0.0</text>
<line x1="62.8" y1="668.1" x2="67.3" y2="668.1" stroke="#000" stroke-width="2.2"/>
<text x="61.9" y="671.4" font-family='"Liberation Serif", serif' font-size="10" font-weight="bold" fill="#000" text-anchor="end" textLength="18" lengthAdjust="spacingAndGlyphs">-0.4</text>
<line x1="62.8" y1="709.2" x2="67.3" y2="709.2" stroke="#000" stroke-width="2.2"/>
<text x="61.9" y="712.5" font-family='"Liberation Serif", serif' font-size="10" font-weight="bold" fill="#000" text-anchor="end" textLength="18" lengthAdjust="spacingAndGlyphs">-0.6</text>
<line x1="64.8" y1="688.65" x2="67.3" y2="688.65" stroke="#000" stroke-width="2"/>
<rect x="61.3" y="594.8" width="12" height="6" fill="#fff"/>
<line x1="62.3" y1="599" x2="72.3" y2="594" stroke="#000" stroke-width="2.3"/>
<line x1="62.3" y1="602.6" x2="72.3" y2="597.6" stroke="#000" stroke-width="2.3"/>
<rect x="61.3" y="655.7" width="12" height="6" fill="#fff"/>
<line x1="62.3" y1="659.9" x2="72.3" y2="654.9" stroke="#000" stroke-width="2.3"/>
<line x1="62.3" y1="663.5" x2="72.3" y2="658.5" stroke="#000" stroke-width="2.3"/>
<rect x="312.3" y="594.8" width="12" height="6" fill="#fff"/>
<line x1="313.3" y1="599" x2="323.3" y2="594" stroke="#000" stroke-width="2.3"/>
<line x1="313.3" y1="602.6" x2="323.3" y2="597.6" stroke="#000" stroke-width="2.3"/>
<rect x="312.3" y="655.7" width="12" height="6" fill="#fff"/>
<line x1="313.3" y1="659.9" x2="323.3" y2="654.9" stroke="#000" stroke-width="2.3"/>
<line x1="313.3" y1="663.5" x2="323.3" y2="658.5" stroke="#000" stroke-width="2.3"/>
<line x1="83.8" y1="729.2" x2="83.8" y2="733.7" stroke="#000" stroke-width="2.2"/>
<text x="83.8" y="745.5" font-family='"Liberation Serif", serif' font-size="10" font-weight="bold" fill="#000" text-anchor="middle" textLength="18.5" lengthAdjust="spacingAndGlyphs">0.10</text>
<line x1="117.3" y1="729.2" x2="117.3" y2="733.7" stroke="#000" stroke-width="2.2"/>
<text x="117.3" y="745.5" font-family='"Liberation Serif", serif' font-size="10" font-weight="bold" fill="#000" text-anchor="middle" textLength="18.5" lengthAdjust="spacingAndGlyphs">0.12</text>
<line x1="150.8" y1="729.2" x2="150.8" y2="733.7" stroke="#000" stroke-width="2.2"/>
<text x="150.8" y="745.5" font-family='"Liberation Serif", serif' font-size="10" font-weight="bold" fill="#000" text-anchor="middle" textLength="18.5" lengthAdjust="spacingAndGlyphs">0.14</text>
<line x1="184.3" y1="729.2" x2="184.3" y2="733.7" stroke="#000" stroke-width="2.2"/>
<text x="184.3" y="745.5" font-family='"Liberation Serif", serif' font-size="10" font-weight="bold" fill="#000" text-anchor="middle" textLength="18.5" lengthAdjust="spacingAndGlyphs">0.16</text>
<line x1="217.8" y1="729.2" x2="217.8" y2="733.7" stroke="#000" stroke-width="2.2"/>
<text x="217.8" y="745.5" font-family='"Liberation Serif", serif' font-size="10" font-weight="bold" fill="#000" text-anchor="middle" textLength="18.5" lengthAdjust="spacingAndGlyphs">0.18</text>
<line x1="251.3" y1="729.2" x2="251.3" y2="733.7" stroke="#000" stroke-width="2.2"/>
<text x="251.3" y="745.5" font-family='"Liberation Serif", serif' font-size="10" font-weight="bold" fill="#000" text-anchor="middle" textLength="18.5" lengthAdjust="spacingAndGlyphs">0.20</text>
<line x1="284.8" y1="729.2" x2="284.8" y2="733.7" stroke="#000" stroke-width="2.2"/>
<text x="284.8" y="745.5" font-family='"Liberation Serif", serif' font-size="10" font-weight="bold" fill="#000" text-anchor="middle" textLength="18.5" lengthAdjust="spacingAndGlyphs">0.22</text>
<line x1="318.3" y1="729.2" x2="318.3" y2="733.7" stroke="#000" stroke-width="2.2"/>
<text x="318.3" y="745.5" font-family='"Liberation Serif", serif' font-size="10" font-weight="bold" fill="#000" text-anchor="middle" textLength="18.5" lengthAdjust="spacingAndGlyphs">0.24</text>
<line x1="100.55" y1="729.2" x2="100.55" y2="731.7" stroke="#000" stroke-width="2"/>
<line x1="134.05" y1="729.2" x2="134.05" y2="731.7" stroke="#000" stroke-width="2"/>
<line x1="167.55" y1="729.2" x2="167.55" y2="731.7" stroke="#000" stroke-width="2"/>
<line x1="201.05" y1="729.2" x2="201.05" y2="731.7" stroke="#000" stroke-width="2"/>
<line x1="234.55" y1="729.2" x2="234.55" y2="731.7" stroke="#000" stroke-width="2"/>
<line x1="268.05" y1="729.2" x2="268.05" y2="731.7" stroke="#000" stroke-width="2"/>
<line x1="301.55" y1="729.2" x2="301.55" y2="731.7" stroke="#000" stroke-width="2"/>
<text x="86.7" y="608.5" font-family='"Liberation Sans", sans-serif' font-size="11.2" font-weight="bold" fill="#000" textLength="92.3" lengthAdjust="spacingAndGlyphs">Oxidation process</text>
<text x="88.2" y="648.1" font-family='"Liberation Sans", sans-serif' font-size="11.2" font-weight="bold" fill="#000" textLength="93" lengthAdjust="spacingAndGlyphs">Reduction process</text>
<circle cx="252.6" cy="598.6" r="2.6" fill="#000"/>
<text x="263.9" y="601.4" font-family='"Liberation Serif", serif' font-size="7.6" font-weight="bold" fill="#000" textLength="10.5" lengthAdjust="spacingAndGlyphs">CF</text>
<circle cx="252.6" cy="609" r="2.6" fill="#ff0000"/>
<text x="263.9" y="611.8" font-family='"Liberation Serif", serif' font-size="7.6" font-weight="bold" fill="#000" textLength="33.5" lengthAdjust="spacingAndGlyphs">PVDF-CF</text>
<circle cx="252.6" cy="618.4" r="2.6" fill="#0000ff"/>
<text x="263.9" y="621.2" font-family='"Liberation Serif", serif' font-size="7.6" font-weight="bold" fill="#000" textLength="43.3" lengthAdjust="spacingAndGlyphs">G-PVDF-CF</text>
<text x="150" y="763.5" font-family='"Liberation Serif", serif' font-size="15" font-weight="bold" fill="#000">V<tspan dy="-5.5" font-size="10">1/2</tspan><tspan dy="5.5"> ((V S</tspan><tspan dy="-5.5" font-size="10">-1</tspan><tspan dy="5.5">)</tspan><tspan dy="-5.5" font-size="10">1/2</tspan><tspan dy="5.5">)</tspan></text>
<g transform="translate(34.8 645.6) rotate(-90)">
<text x="0" y="0" font-family='"Liberation Serif", serif' font-size="13.5" font-weight="bold" fill="#000" textLength="5" lengthAdjust="spacingAndGlyphs">I</text>
<text x="5.8" y="4" font-family='"Liberation Serif", serif' font-size="11.5" font-weight="bold" fill="#000" textLength="7" lengthAdjust="spacingAndGlyphs">p</text>
<text x="16.5" y="0" font-family='"Liberation Serif", serif' font-size="13.5" font-weight="bold" fill="#000" textLength="18.5" lengthAdjust="spacingAndGlyphs">(A)</text>
</g>
<text x="4.6" y="534.3" font-family='"Liberation Sans", sans-serif' font-size="31" font-weight="bold" fill="#000">e</text>
<clipPath id="cf"><rect x="392.5" y="527.5" width="264.2" height="203.4"/></clipPath>
<g clip-path="url(#cf)">
<path d="M392.5,730.9 L394.77,722.18 L399.3,712.88 L402.7,706.54 L414.41,696.02 L431.86,683.4 L456.86,675.09 L491,665.84 L524.77,662.88 L594.34,675.49 L641.03,706.54" stroke="#000" stroke-width="1.8" fill="none" stroke-linejoin="round" stroke-linecap="round"/>
<circle cx="394.77" cy="722.18" r="4.2" fill="#000"/>
<circle cx="399.3" cy="712.88" r="4.2" fill="#000"/>
<circle cx="402.7" cy="706.54" r="4.2" fill="#000"/>
<circle cx="414.41" cy="696.02" r="4.2" fill="#000"/>
<circle cx="431.86" cy="683.4" r="4.2" fill="#000"/>
<circle cx="456.86" cy="675.09" r="4.2" fill="#000"/>
<circle cx="491" cy="665.84" r="4.2" fill="#000"/>
<circle cx="524.77" cy="662.88" r="4.2" fill="#000"/>
<circle cx="594.34" cy="675.49" r="4.2" fill="#000"/>
<circle cx="641.03" cy="706.54" r="4.2" fill="#000"/>
<path d="M392.5,730.9 L394.01,726.25 L395.52,721.6 L398.47,718.23 L401.56,711.71 L408.97,707.76 L421.51,701.54 L439.33,695.2 L456.86,691.89 L485.26,685.96 L513.97,681.31 L544.41,675.09" stroke="#0000ff" stroke-width="1.8" fill="none" stroke-linejoin="round" stroke-linecap="round"/>
<rect x="389.81" y="722.05" width="8.4" height="8.4" fill="#0000ff"/>
<rect x="391.32" y="717.4" width="8.4" height="8.4" fill="#0000ff"/>
<rect x="394.27" y="714.03" width="8.4" height="8.4" fill="#0000ff"/>
<rect x="397.36" y="707.51" width="8.4" height="8.4" fill="#0000ff"/>
<rect x="404.77" y="703.56" width="8.4" height="8.4" fill="#0000ff"/>
<rect x="417.31" y="697.34" width="8.4" height="8.4" fill="#0000ff"/>
<rect x="435.13" y="691" width="8.4" height="8.4" fill="#0000ff"/>
<rect x="452.66" y="687.69" width="8.4" height="8.4" fill="#0000ff"/>
<rect x="481.06" y="681.76" width="8.4" height="8.4" fill="#0000ff"/>
<rect x="509.77" y="677.11" width="8.4" height="8.4" fill="#0000ff"/>
<rect x="540.21" y="670.89" width="8.4" height="8.4" fill="#0000ff"/>
<path d="M392.5,730.9 L393.26,727.41 L394.39,723.92 L395.9,720.43 L398.47,716.66 L404.59,713.46 L412.9,711.13 L422.72,706.48" stroke="#ff0000" stroke-width="1.8" fill="none" stroke-linejoin="round" stroke-linecap="round"/>
<path d="M393.26,723.11 L397.56,727.41 L393.26,731.71 L388.96,727.41 Z" fill="#ff0000"/>
<path d="M394.39,719.62 L398.69,723.92 L394.39,728.22 L390.09,723.92 Z" fill="#ff0000"/>
<path d="M395.9,716.13 L400.2,720.43 L395.9,724.73 L391.6,720.43 Z" fill="#ff0000"/>
<path d="M398.47,712.36 L402.77,716.66 L398.47,720.96 L394.17,716.66 Z" fill="#ff0000"/>
<path d="M404.59,709.16 L408.89,713.46 L404.59,717.76 L400.29,713.46 Z" fill="#ff0000"/>
<path d="M412.9,706.83 L417.2,711.13 L412.9,715.43 L408.6,711.13 Z" fill="#ff0000"/>
<path d="M422.72,702.18 L427.02,706.48 L422.72,710.78 L418.42,706.48 Z" fill="#ff0000"/>
</g>
<rect x="392.5" y="527.5" width="264.2" height="203.4" stroke="#000" stroke-width="2.6" fill="none"/>
<line x1="384.8" y1="730.9" x2="392.5" y2="730.9" stroke="#000" stroke-width="2.2"/>
<text x="382.5" y="734.7" font-family='"Liberation Serif", serif' font-size="11.8" font-weight="bold" fill="#000" text-anchor="end" textLength="6.7" lengthAdjust="spacingAndGlyphs">0</text>
<line x1="392.5" y1="730.9" x2="392.5" y2="736.9" stroke="#000" stroke-width="2.2"/>
<text x="392.5" y="751.3" font-family='"Liberation Serif", serif' font-size="11.8" font-weight="bold" fill="#000" text-anchor="middle" textLength="5.4" lengthAdjust="spacingAndGlyphs">0</text>
<line x1="384.8" y1="701.83" x2="392.5" y2="701.83" stroke="#000" stroke-width="2.2"/>
<text x="382.5" y="705.63" font-family='"Liberation Serif", serif' font-size="11.8" font-weight="bold" fill="#000" text-anchor="end" textLength="17" lengthAdjust="spacingAndGlyphs">500</text>
<line x1="430.27" y1="730.9" x2="430.27" y2="736.9" stroke="#000" stroke-width="2.2"/>
<text x="430.27" y="751.3" font-family='"Liberation Serif", serif' font-size="11.8" font-weight="bold" fill="#000" text-anchor="middle" textLength="15" lengthAdjust="spacingAndGlyphs">500</text>
<line x1="384.8" y1="672.76" x2="392.5" y2="672.76" stroke="#000" stroke-width="2.2"/>
<text x="382.5" y="676.56" font-family='"Liberation Serif", serif' font-size="11.8" font-weight="bold" fill="#000" text-anchor="end" textLength="23.4" lengthAdjust="spacingAndGlyphs">1000</text>
<line x1="468.04" y1="730.9" x2="468.04" y2="736.9" stroke="#000" stroke-width="2.2"/>
<text x="468.04" y="751.3" font-family='"Liberation Serif", serif' font-size="11.8" font-weight="bold" fill="#000" text-anchor="middle" textLength="21.6" lengthAdjust="spacingAndGlyphs">1000</text>
<line x1="384.8" y1="643.69" x2="392.5" y2="643.69" stroke="#000" stroke-width="2.2"/>
<text x="382.5" y="647.49" font-family='"Liberation Serif", serif' font-size="11.8" font-weight="bold" fill="#000" text-anchor="end" textLength="23.4" lengthAdjust="spacingAndGlyphs">1500</text>
<line x1="505.81" y1="730.9" x2="505.81" y2="736.9" stroke="#000" stroke-width="2.2"/>
<text x="505.81" y="751.3" font-family='"Liberation Serif", serif' font-size="11.8" font-weight="bold" fill="#000" text-anchor="middle" textLength="21.6" lengthAdjust="spacingAndGlyphs">1500</text>
<line x1="384.8" y1="614.62" x2="392.5" y2="614.62" stroke="#000" stroke-width="2.2"/>
<text x="382.5" y="618.42" font-family='"Liberation Serif", serif' font-size="11.8" font-weight="bold" fill="#000" text-anchor="end" textLength="23.4" lengthAdjust="spacingAndGlyphs">2000</text>
<line x1="543.58" y1="730.9" x2="543.58" y2="736.9" stroke="#000" stroke-width="2.2"/>
<text x="543.58" y="751.3" font-family='"Liberation Serif", serif' font-size="11.8" font-weight="bold" fill="#000" text-anchor="middle" textLength="21.6" lengthAdjust="spacingAndGlyphs">2000</text>
<line x1="384.8" y1="585.55" x2="392.5" y2="585.55" stroke="#000" stroke-width="2.2"/>
<text x="382.5" y="589.35" font-family='"Liberation Serif", serif' font-size="11.8" font-weight="bold" fill="#000" text-anchor="end" textLength="23.4" lengthAdjust="spacingAndGlyphs">2500</text>
<line x1="581.35" y1="730.9" x2="581.35" y2="736.9" stroke="#000" stroke-width="2.2"/>
<text x="581.35" y="751.3" font-family='"Liberation Serif", serif' font-size="11.8" font-weight="bold" fill="#000" text-anchor="middle" textLength="21.6" lengthAdjust="spacingAndGlyphs">2500</text>
<line x1="384.8" y1="556.48" x2="392.5" y2="556.48" stroke="#000" stroke-width="2.2"/>
<text x="382.5" y="560.28" font-family='"Liberation Serif", serif' font-size="11.8" font-weight="bold" fill="#000" text-anchor="end" textLength="23.4" lengthAdjust="spacingAndGlyphs">3000</text>
<line x1="619.12" y1="730.9" x2="619.12" y2="736.9" stroke="#000" stroke-width="2.2"/>
<text x="619.12" y="751.3" font-family='"Liberation Serif", serif' font-size="11.8" font-weight="bold" fill="#000" text-anchor="middle" textLength="21.6" lengthAdjust="spacingAndGlyphs">3000</text>
<line x1="384.8" y1="527.41" x2="392.5" y2="527.41" stroke="#000" stroke-width="2.2"/>
<text x="382.5" y="531.21" font-family='"Liberation Serif", serif' font-size="11.8" font-weight="bold" fill="#000" text-anchor="end" textLength="23.4" lengthAdjust="spacingAndGlyphs">3500</text>
<line x1="656.89" y1="730.9" x2="656.89" y2="736.9" stroke="#000" stroke-width="2.2"/>
<text x="656.89" y="751.3" font-family='"Liberation Serif", serif' font-size="11.8" font-weight="bold" fill="#000" text-anchor="middle" textLength="21.6" lengthAdjust="spacingAndGlyphs">3500</text>
<line x1="388" y1="716.37" x2="392.5" y2="716.37" stroke="#000" stroke-width="2"/>
<line x1="411.38" y1="730.9" x2="411.38" y2="734.4" stroke="#000" stroke-width="2"/>
<line x1="388" y1="687.29" x2="392.5" y2="687.29" stroke="#000" stroke-width="2"/>
<line x1="449.15" y1="730.9" x2="449.15" y2="734.4" stroke="#000" stroke-width="2"/>
<line x1="388" y1="658.23" x2="392.5" y2="658.23" stroke="#000" stroke-width="2"/>
<line x1="486.93" y1="730.9" x2="486.93" y2="734.4" stroke="#000" stroke-width="2"/>
<line x1="388" y1="629.15" x2="392.5" y2="629.15" stroke="#000" stroke-width="2"/>
<line x1="524.69" y1="730.9" x2="524.69" y2="734.4" stroke="#000" stroke-width="2"/>
<line x1="388" y1="600.09" x2="392.5" y2="600.09" stroke="#000" stroke-width="2"/>
<line x1="562.47" y1="730.9" x2="562.47" y2="734.4" stroke="#000" stroke-width="2"/>
<line x1="388" y1="571.01" x2="392.5" y2="571.01" stroke="#000" stroke-width="2"/>
<line x1="600.24" y1="730.9" x2="600.24" y2="734.4" stroke="#000" stroke-width="2"/>
<line x1="388" y1="541.94" x2="392.5" y2="541.94" stroke="#000" stroke-width="2"/>
<line x1="638" y1="730.9" x2="638" y2="734.4" stroke="#000" stroke-width="2"/>
<line x1="400" y1="538.2" x2="425.2" y2="538.2" stroke="#000" stroke-width="1.8"/>
<circle cx="412.6" cy="538.2" r="3.8" fill="#000"/>
<text x="432.4" y="542.8" font-family='"Liberation Serif", serif' font-size="11" font-weight="bold" fill="#000" textLength="18" lengthAdjust="spacingAndGlyphs">CF</text>
<line x1="400" y1="553.8" x2="425.2" y2="553.8" stroke="#0000ff" stroke-width="1.8"/>
<rect x="408.8" y="550" width="7.6" height="7.6" fill="#0000ff"/>
<text x="432.4" y="558.4" font-family='"Liberation Serif", serif' font-size="11" font-weight="bold" fill="#000" textLength="51" lengthAdjust="spacingAndGlyphs">PVDF-CF</text>
<line x1="400" y1="569.6" x2="425.2" y2="569.6" stroke="#ff0000" stroke-width="1.8"/>
<path d="M412.6,565.6 L416.6,569.6 L412.6,573.6 L408.6,569.6 Z" fill="#ff0000"/>
<text x="432.4" y="574.2" font-family='"Liberation Serif", serif' font-size="11" font-weight="bold" fill="#000" textLength="67" lengthAdjust="spacingAndGlyphs">G-PVDF-CF</text>
<g stroke="#000" stroke-width="2.2" fill="none" stroke-linejoin="miter">
<circle cx="471.4" cy="598.4" r="3.3" fill="#fff"/>
<path d="M474.7,598.4 L489.8,598.4 L491.7,590.8 L499.3,606.7 L505.7,590.8 L512.6,606.7 L519,590.8 L526,606.7 L528.5,598.4 L544.4,598.4"/>
<path d="M544.4,571.1 L544.4,626.7 L557.9,626.7 M601.9,626.7 L614.4,626.7 L614.4,571.1 L599.2,571.1 L596.5,579.2 L589.3,563.1 L582.2,579.2 L575.9,563.1 L568.7,579.2 L562.4,563.1 L558.8,571.1 L544.4,571.1 M614.4,599 L641.3,599"/>
<rect x="557.9" y="616.9" width="44" height="21"/>
<circle cx="644.9" cy="599" r="3.3" fill="#fff"/>
</g>
<text x="502" y="622.8" font-family='"Liberation Serif", serif' font-size="18" font-weight="bold" fill="#000" textLength="12.2" lengthAdjust="spacingAndGlyphs">R</text>
<text x="514.8" y="627.6" font-family='"Liberation Serif", serif' font-size="11.5" font-weight="bold" fill="#000" textLength="5.2" lengthAdjust="spacingAndGlyphs">s</text>
<text x="572.7" y="596" font-family='"Liberation Serif", serif' font-size="18" font-weight="bold" fill="#000" textLength="12.5" lengthAdjust="spacingAndGlyphs">R</text>
<text x="585.3" y="600.8" font-family='"Liberation Serif", serif' font-size="11.5" font-weight="bold" fill="#000" textLength="10.3" lengthAdjust="spacingAndGlyphs">ct</text>
<text x="572.8" y="633" font-family='"Liberation Serif", serif' font-size="18" font-weight="bold" fill="#000" textLength="14.7" lengthAdjust="spacingAndGlyphs">Q</text>
<g transform="translate(354.5 666.5) rotate(-90)">
<text x="0" y="0" font-family='"Liberation Serif", serif' font-size="14" font-weight="bold" fill="#000" textLength="5" lengthAdjust="spacingAndGlyphs">-</text>
<text x="5.5" y="0" font-family='"Liberation Serif", serif' font-size="15" font-weight="bold" fill="#000" textLength="9" lengthAdjust="spacingAndGlyphs">Z</text>
<text x="13.8" y="3.6" font-family='"Liberation Serif", serif' font-size="8.5" font-weight="bold" fill="#000" textLength="10.5" lengthAdjust="spacingAndGlyphs">Im</text>
<text x="26.5" y="0" font-family='"Liberation Serif", serif' font-size="13.5" font-weight="bold" fill="#000" textLength="36.5" lengthAdjust="spacingAndGlyphs">(Ω·cm</text>
<text x="62" y="-6.5" font-family='"Liberation Serif", serif' font-size="7.5" font-weight="bold" fill="#000" textLength="3.5" lengthAdjust="spacingAndGlyphs">2</text>
<text x="65" y="0" font-family='"Liberation Serif", serif' font-size="13.5" font-weight="bold" fill="#000" textLength="4.8" lengthAdjust="spacingAndGlyphs">)</text>
</g>
<text x="492.2" y="763.5" font-family='"Liberation Serif", serif' font-size="13.5" font-weight="bold" fill="#000" textLength="64.4" lengthAdjust="spacingAndGlyphs">Z<tspan dy="3" font-size="9">Re</tspan><tspan dy="-3">(Ω·cm</tspan><tspan dy="-5" font-size="8">2</tspan><tspan dy="5">)</tspan></text>
<text x="343" y="534.6" font-family='"Liberation Sans", sans-serif' font-size="31" font-weight="bold" fill="#000" textLength="12" lengthAdjust="spacingAndGlyphs">f</text>
</svg>
</body></html>
